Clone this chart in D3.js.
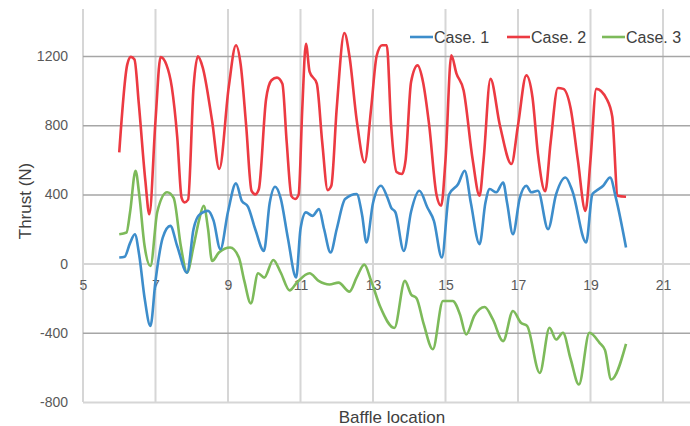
<!DOCTYPE html>
<html lang="en">
<head>
    <meta charset="UTF-8">
    <title>Thrust vs Baffle location</title>
    <script src="https://d3js.org/d3.v7.min.js"></script>
    <style>
        body { margin: 0; background: #fff; }
        svg { display: block; font-family: "Liberation Sans", Arial, sans-serif; }
        .tick text { fill: #595959; font-size: 14px; }
        .domain { display: none; }
    </style>
</head>
<body>
<svg width="690" height="426"></svg>
<script>
    // Case. 1 (blue)
    const case1X = [6.0, 6.15, 6.3, 6.43, 6.55, 6.7, 6.86, 7.0, 7.2, 7.41, 7.6, 7.87, 8.05, 8.2, 8.45, 8.6, 8.79, 9.0, 9.22, 9.38, 9.55, 9.75, 9.99,
        10.15, 10.3, 10.45, 10.65, 10.88, 11.0, 11.15, 11.33, 11.51, 11.65, 11.83, 12.0, 12.23, 12.55, 12.7, 12.82, 13.0, 13.22, 13.4, 13.5, 13.62,
        13.85, 14.05, 14.28, 14.5, 14.68, 14.9, 15.1, 15.35, 15.53, 15.7, 15.94, 16.1, 16.22, 16.4, 16.59, 16.7, 16.86, 17.05, 17.23, 17.37, 17.55,
        17.83, 18.05, 18.31, 18.5, 18.88, 19.05, 19.16, 19.35, 19.54, 19.7, 19.98];
    const case1Y = [35, 40, 120, 170, 50, -200, -361, -100, 150, 218, 100, -52, 200, 280, 305, 250, 83, 300, 464, 363, 330, 200, 73,
        350, 444, 380, 150, -80, 200, 296, 276, 315, 200, 64, 200, 373, 402, 280, 122, 350, 450, 380, 324, 296,
        73, 300, 421, 324, 247, 35, 400, 460, 537, 350, 112, 350, 431, 412, 469, 350, 170, 380, 450, 412, 421,
        199, 400, 498, 420, 122, 400, 421, 450, 498, 380, 93];

    // Case. 2 (red)
    const case2X = [6.0, 6.22, 6.32, 6.42, 6.54, 6.72, 6.83, 7.0, 7.14, 7.3, 7.45, 7.6, 7.72, 7.8, 7.9, 8.05, 8.17, 8.3, 8.56, 8.76, 9.02, 9.22, 9.35,
        9.5, 9.65, 9.75, 9.85, 10.05, 10.2, 10.35, 10.5, 10.62, 10.75, 10.85, 10.95, 11.05, 11.15, 11.25, 11.45, 11.6, 11.75, 11.85, 12.0, 12.21,
        12.35, 12.55, 12.77, 12.95, 13.1, 13.25, 13.38, 13.5, 13.65, 13.8, 13.9, 14.05, 14.23, 14.38, 14.55, 14.75, 14.88, 15.0, 15.16, 15.3, 15.5,
        15.75, 15.94, 16.05, 16.24, 16.5, 16.82, 17.0, 17.23, 17.4, 17.55, 17.75, 17.9, 18.1, 18.25, 18.45, 18.65, 18.86, 19.0, 19.16, 19.45,
        19.6, 19.75, 19.98];
    const case2Y = [643, 1150, 1195, 1180, 923, 479, 285, 827, 1194, 1150, 1020, 730, 380, 354, 370, 1020, 1198, 1136, 827, 547, 1020, 1262, 1150,
        800, 420, 400, 430, 950, 1060, 1075, 1040, 700, 390, 373, 400, 900, 1271, 1110, 1040, 700, 425, 450, 900, 1333,
        1200, 830, 585, 900, 1200, 1262, 1262, 800, 530, 518, 600, 1050, 1146, 1050, 800, 400, 334, 600, 1204, 1100, 1000,
        600, 392, 600, 1068, 800, 576, 800, 1088, 960, 634, 418, 700, 1015, 1010, 900, 600, 305, 600, 1010, 950,
        850, 392, 386];

    // Case. 3 (green)
    const case3X = [6.0, 6.2, 6.3, 6.45, 6.55, 6.7, 6.86, 7.05, 7.32, 7.5, 7.7, 7.87, 8.05, 8.2, 8.33, 8.45, 8.56, 8.75, 9.06, 9.3, 9.45, 9.63,
        9.83, 10.0, 10.25, 10.45, 10.7, 10.9, 11.25, 11.5, 11.8, 12.05, 12.35, 12.55, 12.76, 12.95, 13.2, 13.59, 13.88, 14.05, 14.2, 14.4, 14.65,
        14.93, 15.2, 15.4, 15.57, 15.8, 16.08, 16.3, 16.59, 16.86, 17.08, 17.25, 17.6, 17.87, 18.05, 18.24, 18.45, 18.68, 18.97, 19.25, 19.4,
        19.57, 19.98];
    const case3Y = [170, 180, 300, 537, 400, 100, -14, 300, 412, 380, 100, -52, 100, 250, 334, 200, 15, 64, 93, 35, -100, -230,
        -56, -81, 21, -50, -155, -110, -56, -100, -121, -110, -162, -80, -6, -100, -250, -372, -100, -178, -200, -350, -495,
        -216, -216, -294, -410, -300, -251, -320, -448, -274, -342, -360, -632, -371, -439, -400, -550, -699, -400, -458, -500,
        -670, -464];

    const seriesNames = ["Case. 1", "Case. 2", "Case. 3"];
    const seriesColors = ["#3d8dcb", "#ec3a42", "#7dba5a"];
    const xTicks = [5, 7, 9, 11, 13, 15, 17, 19, 21];
    const yTicks = [-800, -400, 0, 400, 800, 1200];

    const svg = d3.select("svg");
    const mLeft = 83, mRight = 663, mTop = 9, mBottom = 402, plotRight = 690;

    const x = d3.scaleLinear().domain([5, 21]).range([mLeft, mRight]);
    const y = d3.scaleLinear().domain([-800, 1200]).range([mBottom, 56]);

    // vertical grid lines (light)
    svg.append("g")
        .selectAll("line")
        .data(xTicks)
        .join("line")
        .attr("x1", d => x(d)).attr("x2", d => x(d))
        .attr("y1", mTop).attr("y2", mBottom)
        .attr("stroke", "#d6d6d6")
        .attr("stroke-width", 2);

    // horizontal grid lines + y labels (plain hyphen for negatives, like Excel)
    const yAxis = svg.append("g")
        .attr("transform", `translate(${mLeft},0)`)
        .call(d3.axisLeft(y).tickValues(yTicks).tickSize(-(plotRight - mLeft)).tickPadding(15).tickFormat(d => String(d)));
    yAxis.selectAll(".tick line")
        .attr("stroke", d => (d === 0 || d === -800) ? "#d6d6d6" : "#a6a6a6")
        .attr("stroke-width", d => (d === 0 || d === -800) ? 2 : 1.5);

    // x labels sit under the zero line
    svg.append("g")
        .attr("transform", `translate(0,${y(0)})`)
        .call(d3.axisBottom(x).tickValues(xTicks).tickSize(0).tickPadding(16).tickFormat(d => String(d)));

    // series
    const line = d3.line()
        .x(d => x(d[0]))
        .y(d => y(d[1]))
        .curve(d3.curveMonotoneX);

    const allSeries = [
        d3.zip(case1X, case1Y),
        d3.zip(case2X, case2Y),
        d3.zip(case3X, case3Y)
    ];

    // draw green first, then red, then blue on top
    [2, 1, 0].forEach(i => {
        svg.append("path")
            .datum(allSeries[i])
            .attr("fill", "none")
            .attr("stroke", seriesColors[i])
            .attr("stroke-width", 2.6)
            .attr("stroke-linejoin", "round")
            .attr("d", line);
    });

    // legend
    const legendX = [410, 507, 602];
    const legend = svg.append("g");
    seriesNames.forEach((name, i) => {
        legend.append("line")
            .attr("x1", legendX[i]).attr("x2", legendX[i] + 23)
            .attr("y1", 37).attr("y2", 37)
            .attr("stroke", seriesColors[i])
            .attr("stroke-width", 2.6);
        legend.append("text")
            .attr("x", legendX[i] + 24)
            .attr("y", 37)
            .attr("dy", "0.35em")
            .attr("fill", "#404040")
            .attr("font-size", 16)
            .text(name);
    });

    // axis titles
    svg.append("text")
        .attr("x", 392)
        .attr("y", 417)
        .attr("text-anchor", "middle")
        .attr("dy", "0.35em")
        .attr("fill", "#404040")
        .attr("font-size", 17)
        .text("Baffle location");

    svg.append("text")
        .attr("transform", "translate(25,201) rotate(-90)")
        .attr("text-anchor", "middle")
        .attr("dy", "0.35em")
        .attr("fill", "#404040")
        .attr("font-size", 17)
        .text("Thrust (N)");
</script>
</body>
</html>
